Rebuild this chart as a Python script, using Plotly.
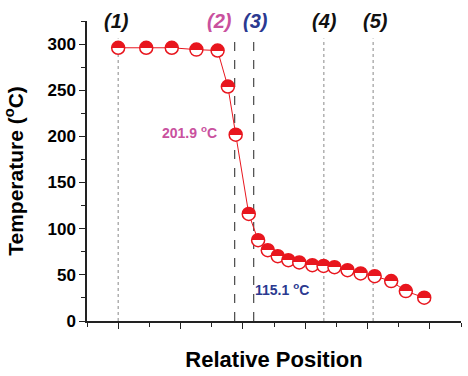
import plotly.graph_objects as go

# Data
positions = [1.00, 1.90, 2.72, 3.51, 4.19, 4.52, 4.77, 5.19, 5.49, 5.80, 6.12,
             6.46, 6.81, 7.23, 7.59, 7.94, 8.36, 8.78, 9.23, 9.76, 10.23, 10.82]
temperatures = [296, 296, 296, 294, 293, 254, 201.9, 116, 87.5, 76.7, 70.2,
                65.9, 63.4, 60.5, 59.7, 58.3, 55.1, 51.5, 48.6, 43.2, 32.4, 25.2]

zone_labels = ["(1)", "(2)", "(3)", "(4)", "(5)"]
zone_lines = [1.00, 4.74, 5.35, 7.60, 9.18]
zone_label_x = [0.94, 4.26, 5.42, 7.61, 9.26]
zone_colors = ["#111111", "#c9519e", "#2b3990", "#111111", "#111111"]
zone_line_colors = ["#888888", "#222222", "#222222", "#888888", "#888888"]
zone_line_dash = ["dot", "dash", "dash", "dot", "dot"]
zone_line_top = 306

red = "#e8161e"
FONT = "Arial, Liberation Sans, sans-serif"

fig = go.Figure()
fig.add_trace(go.Scatter(
    x=positions, y=temperatures, mode="lines+markers",
    line=dict(color=red, width=1),
    marker=dict(size=13, color=red, symbol="circle",
                gradient=dict(type="vertical", color="white"),
                line=dict(color=red, width=1.5)),
    hoverinfo="skip", showlegend=False, cliponaxis=False,
))

for xv, c, d in zip(zone_lines, zone_line_colors, zone_line_dash):
    fig.add_shape(type="line", xref="x", yref="y", x0=xv, x1=xv, y0=0, y1=zone_line_top,
                  line=dict(color=c, width=1, dash=d), layer="below")

for lab, xv, c in zip(zone_labels, zone_label_x, zone_colors):
    fig.add_annotation(x=xv, y=325, xref="x", yref="y", text="<b><i>" + lab + "</i></b>",
                       showarrow=False, yanchor="middle", xanchor="center",
                       font=dict(size=20, color=c, family=FONT))

fig.add_annotation(x=3.29, y=205, xref="x", yref="y", text="<b>201.9 <sup>o</sup>C</b>",
                   showarrow=False, xanchor="center", yanchor="middle",
                   font=dict(size=14, color="#c9519e", family=FONT))
fig.add_annotation(x=5.32, y=35, xref="x", yref="y", text="<b>115.1 <sup>o</sup>C</b>",
                   showarrow=False, xanchor="left", yanchor="middle",
                   font=dict(size=14, color="#2b3990", family=FONT))

fig.update_layout(
    width=468, height=376,
    margin=dict(l=87, r=7, t=21, b=55, autoexpand=False),
    paper_bgcolor="white", plot_bgcolor="white",
    font=dict(family=FONT, color="black"),
    xaxis=dict(range=[0, 12], showgrid=False, zeroline=False, showline=True,
               automargin=False,
               linecolor="#222222", linewidth=1.5, ticks="outside", ticklen=6,
               tickwidth=1.2, tickcolor="#222222", tick0=1, dtick=2,
               showticklabels=False,
               minor=dict(ticks="outside", ticklen=4, tick0=0, dtick=1,
                          tickcolor="#222222", tickwidth=1.2),
               title=dict(text="Relative Position",
                          font=dict(size=22, weight="bold", family=FONT), standoff=24)),
    yaxis=dict(range=[0, 325], showgrid=False, zeroline=False, showline=True,
               automargin=False,
               linecolor="#222222", linewidth=1.5, ticks="outside", ticklen=6,
               tickwidth=1.2, tickcolor="#222222", tick0=0, dtick=50,
               tickfont=dict(size=17, weight="bold", family=FONT),
               minor=dict(ticks="outside", ticklen=4, tick0=0, dtick=25,
                          tickcolor="#222222", tickwidth=1.2),
               title=dict(text="Temperature (<sup>o</sup>C)",
                          font=dict(size=21, weight="bold", family=FONT), standoff=18)),
)

post = """
document.body.style.margin = '0';
document.body.style.padding = '0';
var gd = document.getElementById('{plot_id}');
gd.querySelectorAll('linearGradient').forEach(function(g){
  g.querySelectorAll('stop').forEach(function(s){ s.setAttribute('offset','50%'); });
});
"""
fig.write_html("out.html", post_script=post, config={"displayModeBar": False})
